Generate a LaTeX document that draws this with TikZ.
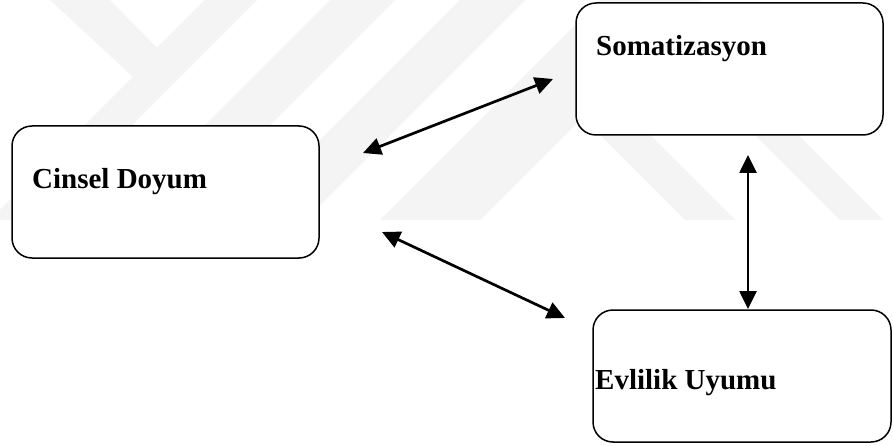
\documentclass[tikz,border=0pt]{standalone}
\usepackage{fontspec}
\setmainfont{Liberation Serif}
\usetikzlibrary{arrows.meta}
\definecolor{wmark}{gray}{0.955}
\tikzset{
  box/.style={draw=black, line width=1.5pt, fill=white, rounded corners=20pt,
              inner sep=0pt, minimum height=132pt},
  boxtext/.style={anchor=base west, inner sep=0pt,
                  font=\fontsize{29}{34}\selectfont\bfseries},
  conn/.style={line width=2.7pt, {Triangle[length=18pt,width=17pt]}-{Triangle[length=18pt,width=17pt]}},
  wm/.style={fill=wmark, draw=none}
}
\begin{document}
\begin{tikzpicture}[x=1pt,y=-1pt]
\useasboundingbox (0,0) rectangle (893,446);
\fill[white] (0,0) rectangle (893,446);
% faint watermark
\fill[wm] (50,0) -- (110,0) -- (157,48) -- (205,0) -- (257,0) -- (37,220) -- (0,220) -- (0,210) -- (133,77) -- cycle;
\fill[wm] (330,0) -- (395,0) -- (175,220) -- (110,220) -- cycle;
\fill[wm] (460,0) -- (525,0) -- (305,220) -- (240,220) -- cycle;
\fill[wm] (600,0) -- (700,0) -- (480,220) -- (380,220) -- cycle;
\fill[wm] (540,75) -- (590,75) -- (735,220) -- (685,220) -- cycle;
\fill[wm] (720,100) -- (763,100) -- (883,220) -- (840,220) -- cycle;
% boxes
\node[box, minimum width=307pt] (cinsel) at (165.5,192) {};
\node[box, minimum width=307pt] (somat) at (729.5,69) {};
\node[box, minimum width=298pt] (evlilik) at (742,376) {};
\node[boxtext] (cinseltxt) at (32,189) {Cinsel Doyum};
\node[boxtext] (somattxt) at (596,56) {Somatizasyon};
\node[boxtext] (evliliktxt) at (595,389) {Evlilik Uyumu};
% connector end points
\coordinate (a1s) at (363,153);
\coordinate (a1e) at (553,79);
\coordinate (a2s) at (382,232);
\coordinate (a2e) at (565,318);
\coordinate (a3s) at (748,155);
\coordinate (a3e) at (748,309);
\draw[conn] (a1s) -- (a1e);
\draw[conn] (a2s) -- (a2e);
\draw[conn] (a3s) -- (a3e);
\end{tikzpicture}
\end{document}
